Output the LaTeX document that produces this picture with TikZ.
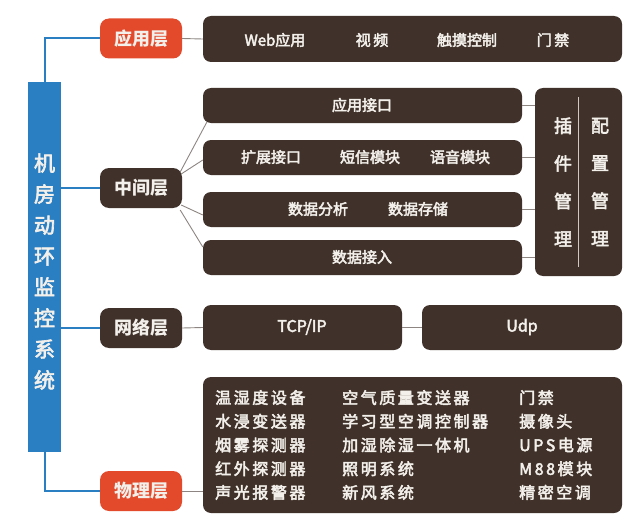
\documentclass[tikz,border=0pt]{standalone}
\usepackage{fontspec}
\setmainfont{Noto Sans CJK SC}
\newfontfamily\cjkm[FakeBold=3]{Noto Sans CJK SC}
\newfontfamily\cjksp[LetterSpace=16,FakeBold=3]{Noto Sans CJK SC}
\usetikzlibrary{calc}
\definecolor{brn}{HTML}{40322B}
\definecolor{redl}{HTML}{E24A2B}
\definecolor{bluel}{HTML}{2A7FC2}
\definecolor{txt}{HTML}{F3EFEA}
\definecolor{conn}{HTML}{8C8582}
\tikzset{
  box/.style={fill=brn, rounded corners=8pt, inner sep=0pt, draw=none},
  layerred/.style={fill=redl, rounded corners=9pt, inner sep=0pt, minimum width=82pt, minimum height=40pt, text=txt, font=\fontsize{18}{20}\selectfont\bfseries},
  layerbrn/.style={fill=brn, rounded corners=9pt, inner sep=0pt, minimum width=82pt, minimum height=40pt, text=txt, font=\fontsize{18}{20}\selectfont\bfseries},
  lbl/.style={text=txt, inner sep=0pt, font=\fontsize{15}{17}\selectfont\cjkm},
  phytext/.style={text=txt, inner sep=0pt, align=left, font=\fontsize{16}{23.7}\selectfont\cjksp},
  sidetext/.style={text=txt, inner sep=0pt, align=center, font=\fontsize{18}{37.7}\selectfont\cjkm},
  bluelink/.style={draw=bluel, line width=2pt},
  graylink/.style={draw=conn, line width=0.9pt},
}
\begin{document}
\begin{tikzpicture}[x=1pt,y=-1pt]
\useasboundingbox (0,0) rectangle (635,527);
% root bar
\node[fill=bluel, inner sep=0pt, minimum width=33pt, minimum height=370pt] (bar) at (44.5,267) {};
\node[text=txt, inner sep=0pt, align=center, font=\fontsize{21}{31}\selectfont\cjkm] (bartext) at (44.5,271.5) {机\\房\\动\\环\\监\\控\\系\\统};
% layer nodes
\node[layerred] (app) at (141,38.5) {应用层};
\node[layerbrn] (mid) at (141,188) {中间层};
\node[layerbrn] (net) at (141,328) {网络层};
\node[layerred] (phy) at (141,491) {物理层};
% application layer box
\node[box, minimum width=419pt, minimum height=46pt] (top) at (412.5,39) {};
\node[lbl] (t1) at (275,40) {Web应用};
\node[lbl] (t2) at (372,40) {视\,频};
\node[lbl] (t3) at (467,40) {触摸控制};
\node[lbl] (t4) at (553,40) {门\,禁};
% middle layer boxes
\node[box, minimum width=319pt, minimum height=35pt] (m1) at (362.5,105.5) {};
\node[box, minimum width=319pt, minimum height=35pt] (m2) at (362.5,157.5) {};
\node[box, minimum width=319pt, minimum height=35pt] (m3) at (362.5,209.5) {};
\node[box, minimum width=319pt, minimum height=35pt] (m4) at (362.5,257.5) {};
\node[lbl] (m1t) at (362,105) {应用接口};
\node[lbl] (m2a) at (271,157) {扩展接口};
\node[lbl] (m2b) at (370,157) {短信模块};
\node[lbl] (m2c) at (460,157) {语音模块};
\node[lbl] (m3a) at (318,209) {数据分析};
\node[lbl] (m3b) at (418,209) {数据存储};
\node[lbl] (m4t) at (362,257) {数据接入};
\node[box, minimum width=87pt, minimum height=188pt] (rbox) at (578.5,182) {};
\coordinate (divtop) at (578,97);
\coordinate (divbot) at (578,267);
\draw[draw=txt!80!brn, line width=0.9pt] (divtop) -- (divbot);
\node[sidetext] (plug) at (563,182) {插\\件\\管\\理};
\node[sidetext] (conf) at (600,182) {配\\置\\管\\理};
% network layer boxes
\node[box, minimum width=199pt, minimum height=45pt] (tcp) at (302.5,327.5) {};
\node[box, minimum width=200pt, minimum height=45pt] (udp) at (522,327.5) {};
\node[lbl, font=\fontsize{16}{18}\selectfont\cjkm] (tcpt) at (302,327) {TCP/IP};
\node[lbl, font=\fontsize{16}{18}\selectfont\cjkm] (udpt) at (522,327) {Udp};
% physical layer box
\node[box, minimum width=419pt, minimum height=136pt] (pbox) at (412.5,445) {};
\node[phytext, anchor=west] (c1) at (215,445) {温湿度设备\\水浸变送器\\烟雾探测器\\红外探测器\\声光报警器};
\node[phytext, anchor=west] (c2) at (342,445) {空气质量变送器\\学习型空调控制器\\加湿除湿一体机\\照明系统\\新风系统};
\node[phytext, anchor=west] (c3) at (519,445) {门禁\\摄像头\\UPS电源\\M88模块\\精密空调};
% blue links
\draw[bluelink] (bar.north) |- (app.west);
\draw[bluelink] (mid.west -| bar.east) -- (mid.west);
\draw[bluelink] (net.west -| bar.east) -- (net.west);
\draw[bluelink] (bar.south) |- (phy.west);
% gray links
\draw[graylink] (app.east) -- (top.west);
\draw[graylink] (net.east) -- (tcp.west);
\draw[graylink] (tcp.east) -- (udp.west);
\draw[graylink] (phy.east) -- (phy.east -| pbox.west);
\draw[graylink] ($(mid.east)+(-2,-16)$) -- ($(m1.south west)+(4,-1)$);
\draw[graylink] ($(mid.east)+(-1,-14)$) -- ($(m2.west)+(0,2.5)$);
\draw[graylink] ($(mid.east)+(-1,17)$) -- ($(m3.west)+(0,5.5)$);
\draw[graylink] ($(mid.east)+(-2,22)$) -- ($(m4.west)+(0,-10.5)$);
\draw[graylink] (m1.east) -- (m1.east -| rbox.west);
\draw[graylink] (m2.east) -- (m2.east -| rbox.west);
\draw[graylink] (m3.east) -- (m3.east -| rbox.west);
\draw[graylink] (m4.east) -- (m4.east -| rbox.west);
\end{tikzpicture}
\end{document}
